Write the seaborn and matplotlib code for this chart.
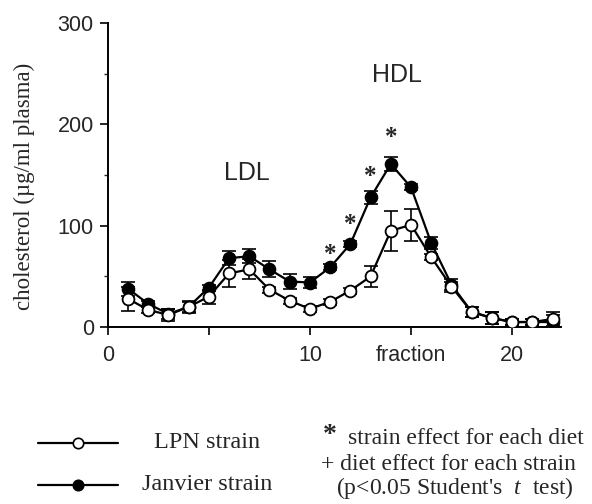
import numpy as np
import pandas as pd
import matplotlib
matplotlib.use("Agg")
import matplotlib.pyplot as plt
import seaborn as sns
from matplotlib.lines import Line2D

fraction = list(range(1, 23))
lpn = [28, 17, 12, 20, 30, 53, 57, 37, 26, 18, 25, 36, 50, 95, 101, 69, 40, 15, 9, 5, 5, 8]
lpn_err = [12, 3, 6, 6, 7, 13, 10, 3, 3, 3, 3, 3, 10, 20, 16, 3, 5, 5, 6, 3, 3, 7]
janvier = [38, 23, 13, 20, 39, 68, 70, 57, 45, 44, 59, 82, 128, 161, 138, 83, 42, 15, 9, 5, 5, 5]
janvier_err = [7, 3, 5, 5, 3, 7, 7, 8, 7, 5, 3, 3, 6, 7, 3, 6, 5, 5, 6, 3, 3, 7]
star_x = [11, 12, 13, 14]
star_y = [72, 101, 149, 187]

df = pd.DataFrame({"fraction": fraction * 2,
                   "chol": lpn + janvier,
                   "strain": ["LPN"] * len(lpn) + ["Janvier"] * len(janvier)})

sns.set_style("ticks")
plt.rcParams["font.family"] = ["Liberation Sans", "DejaVu Sans"]
plt.rcParams["mathtext.fontset"] = "custom"
plt.rcParams["mathtext.it"] = "Liberation Serif:italic"
plt.rcParams["mathtext.rm"] = "Liberation Serif"

fig = plt.figure(figsize=(5.92, 5.04), dpi=100)
ax = fig.add_axes([0.182, 0.351, 0.765, 0.603])

for strain, vals, errs, face in [("Janvier", janvier, janvier_err, "black"),
                                 ("LPN", lpn, lpn_err, "white")]:
    ax.errorbar(fraction, vals, yerr=errs, fmt="none", ecolor="black",
                elinewidth=1.2, capsize=5, capthick=1.2, zorder=2)
    sub = df[df.strain == strain]
    sns.lineplot(data=sub, x="fraction", y="chol", ax=ax, color="black",
                 linewidth=1.6, marker="o", markersize=8.5,
                 markerfacecolor=face, markeredgecolor="black",
                 markeredgewidth=1.3, zorder=3, legend=False)

for sx, sy in zip(star_x, star_y):
    ax.text(sx, sy, "*", ha="center", va="center", fontsize=18,
            fontweight="bold", family="Liberation Serif")

ax.text(6.9, 152, "LDL", ha="center", va="center", fontsize=18)
ax.text(14.3, 249, "HDL", ha="center", va="center", fontsize=18)

ax.set_xlim(0, 22.4)
ax.set_ylim(0, 300)
ax.set_xticks([0, 5, 10, 15, 20])
ax.set_xticklabels(["0", "", "10", "fraction", "20"])
ax.set_yticks([0, 100, 200, 300])
ax.set_yticks([50, 150, 250], minor=True)
ax.tick_params(axis="both", labelsize=15.5, width=1.2, length=6, color="black")
ax.tick_params(axis="y", which="minor", length=3, width=1)
ax.tick_params(axis="x", pad=7)
ax.tick_params(axis="y", pad=4)
sns.despine(ax=ax)
for s in ["left", "bottom"]:
    ax.spines[s].set_linewidth(1.4)
    ax.spines[s].set_color("black")
ax.set_xlabel("")
ax.set_ylabel("cholesterol (\u00b5g/ml plasma)", family="Liberation Serif",
              fontsize=16.5, va="center")
ax.yaxis.set_label_coords(-0.183, 0.464)

# legend drawn below the axes
W, H = 592, 504
def fx(px):
    return px / W
def fy(py):
    return 1 - py / H

for py, face, label in [(443, "white", "LPN strain"), (485, "black", "Janvier strain")]:
    fig.add_artist(Line2D([fx(38), fx(118)], [fy(py), fy(py)], color="black",
                          linewidth=1.6, transform=fig.transFigure))
    fig.add_artist(Line2D([fx(78)], [fy(py)], marker="o", markersize=7.5,
                          markerfacecolor=face, markeredgecolor="black",
                          markeredgewidth=1.2, transform=fig.transFigure))
    fig.text(fx(207), fy(py), label, family="Liberation Serif", fontsize=17.5,
             va="center", ha="center")

fig.text(fx(330), fy(435), "*", family="Liberation Serif", fontsize=20,
         fontweight="bold", va="center", ha="center")
fig.text(fx(348), fy(439), "strain effect for each diet", family="Liberation Serif",
         fontsize=17, va="center", ha="left")
fig.text(fx(321), fy(465), "+ diet effect for each strain", family="Liberation Serif",
         fontsize=17, va="center", ha="left")
fig.text(fx(336), fy(488), "(p<0.05 Student's  $\\it{t}$  test)", family="Liberation Serif",
         fontsize=17, va="center", ha="left")

fig.savefig("out.png", dpi=100)
